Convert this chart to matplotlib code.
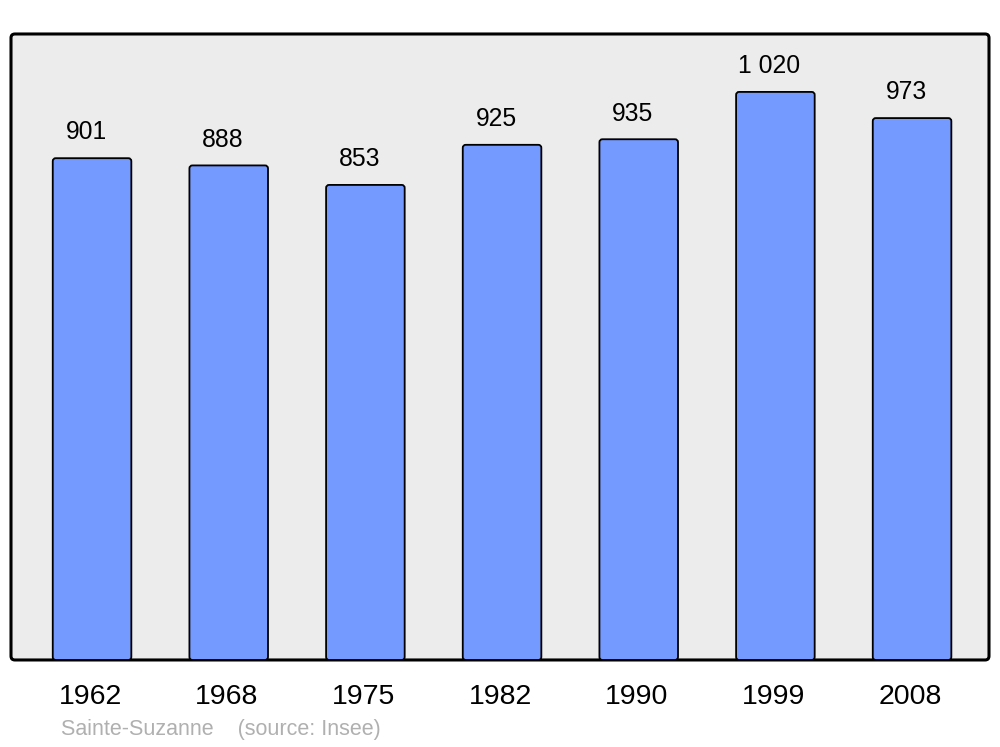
import numpy as np
import matplotlib
matplotlib.use('Agg')
from matplotlib import pyplot as plt
from matplotlib.patches import FancyBboxPatch
import matplotlib.transforms as mtransforms

years  = ['1962', '1968', '1975', '1982', '1990', '1999', '2008']
pop    = [901, 888, 853, 925, 935, 1020, 973]
labels = ['901', '888', '853', '925', '935', '1 020', '973']

plt.rcParams['font.family'] = ['Liberation Sans', 'DejaVu Sans']

fig = plt.figure(figsize=(10, 7.47), dpi=100, facecolor='w')
ax = fig.add_axes([0.011, 0.1165, 0.978, 0.838])
ax.set_facecolor('none')

x = np.arange(len(years))
ymax = 1124
ax.set_xlim(-0.593, len(years) - 1 + 0.563)
ax.set_ylim(0, ymax)

# rounded background frame
frame = FancyBboxPatch((0, 0), 1, 1, boxstyle='round,pad=0,rounding_size=0.004',
                       transform=ax.transAxes, facecolor='#ececec', edgecolor='black',
                       linewidth=2.2, mutation_aspect=978/626, zorder=0, clip_on=False)
ax.add_patch(frame)

# bars via ax.bar, then swapped for rounded patches
bars = ax.bar(x, pop, width=0.575, color='#7499ff', edgecolor='black', linewidth=1.0)
for b in bars:
    b.set_visible(False)
    p = FancyBboxPatch((b.get_x(), b.get_y()), b.get_width(), b.get_height(),
                       boxstyle='round,pad=0,rounding_size=0.022', mutation_aspect=245,
                       facecolor='#7499ff', edgecolor='black', linewidth=1.3, zorder=2)
    ax.add_patch(p)

for xi, v, lab in zip(x, pop, labels):
    ax.annotate(lab, (xi, v), xytext=(-4.3, 18.5), textcoords='offset points',
                ha='center', va='center', fontsize=17.8, color='black')

for s in ax.spines.values():
    s.set_visible(False)
ax.set_yticks([])
ax.set_xticks(x)
ax.set_xticklabels(years, fontsize=20.5)
ax.tick_params(axis='x', length=0, pad=17)
# nudge year labels slightly left, as in the original
off = mtransforms.ScaledTranslation(-2/100, 0, fig.dpi_scale_trans)
for t in ax.get_xticklabels():
    t.set_transform(t.get_transform() + off)

fig.text(0.061, 1 - 730/747, 'Sainte-Suzanne    (source: Insee)', fontsize=15.5,
         color='#b0b0b0', ha='left', va='center')

plt.savefig('out.png', dpi=100)
